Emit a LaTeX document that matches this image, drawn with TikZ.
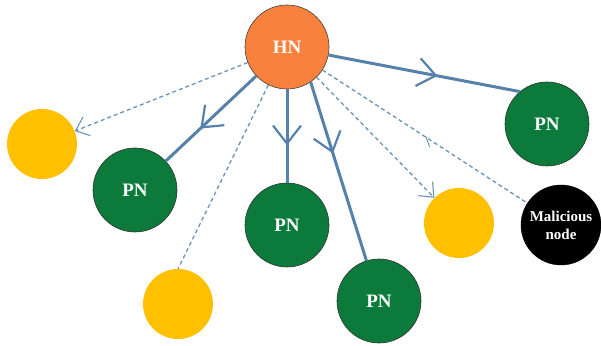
\documentclass[tikz,border=0pt]{standalone}
\usepackage{fontspec}
\setmainfont{Liberation Serif}
\usetikzlibrary{arrows.meta,decorations.markings}
\definecolor{hnorange}{HTML}{F7813D}
\definecolor{pngreen}{HTML}{0B7A3A}
\definecolor{gold}{HTML}{FFC000}
\definecolor{linkblue}{HTML}{5681AA}
\definecolor{dashblue}{HTML}{6A93B8}
\begin{document}
\begin{tikzpicture}[x=1pt,y=1pt,
  basenode/.style={circle, inner sep=0pt, text=white, align=center,
    font=\bfseries\fontsize{19}{20}\selectfont},
  hnnode/.style={basenode, minimum size=84pt, fill=hnorange, draw=black!75, line width=0.6pt},
  pnnode/.style={basenode, minimum size=84pt, fill=pngreen, draw=black!80, line width=0.6pt},
  malnode/.style={basenode, minimum size=80pt, fill=black, draw=black,
    font=\bfseries\fontsize{15}{18}\selectfont},
  yelnode/.style={circle, inner sep=0pt, minimum size=70pt, fill=gold},
  solidedge/.style={draw=linkblue, line width=3pt},
  dashedge/.style={draw=dashblue, line width=1.3pt, dash pattern=on 4pt off 3pt},
  midarrow/.style={postaction={decorate}, decoration={markings,
    mark=at position #1 with {\arrow[line width=2.2pt]{Straight Barb[length=18pt 0, width=28pt 0]}}}},
  endtip/.style={-{Straight Barb[length=12pt 0,width=20pt 0,line width=1.1pt]}},
  midback/.style={postaction={decorate}, decoration={markings,
    mark=at position #1 with {\arrowreversed[line width=1pt]{Straight Barb[harpoon,swap,length=8pt 0,width=12pt 0]}}}}
]
\useasboundingbox (0,0) rectangle (601,345);

% nodes
\node[hnnode] (hn) at (287,298) {HN};
\node[pnnode] (pnL) at (135,155) {PN};
\node[pnnode] (pnC) at (287,120) {PN};
\node[pnnode] (pnB) at (379,44) {PN};
\node[pnnode] (pnR) at (547,221) {PN};
\node[yelnode] (yL) at (42,201) {};
\node[yelnode] (yB) at (178,41) {};
\node[yelnode] (yR) at (459,122) {};
\node[malnode] (mal) at (561,120) {Malicious\\node};

% solid links
\draw[solidedge, midarrow=0.62] (hn) -- (pnL);
\draw[solidedge, midarrow=0.6] (hn) -- (pnC);
\draw[solidedge, midarrow=0.4] (hn.-56) -- (pnB);
\draw[solidedge, midarrow=0.57] (hn.-11) -- (pnR.130);

% dashed links
\draw[dashedge, endtip] (hn) -- (yL);
\draw[dashedge] (hn) -- (yB.north);
\draw[dashedge, endtip] (hn) -- (yR);
\draw[dashedge, midback=0.5] (hn) -- (mal);
\end{tikzpicture}
\end{document}
